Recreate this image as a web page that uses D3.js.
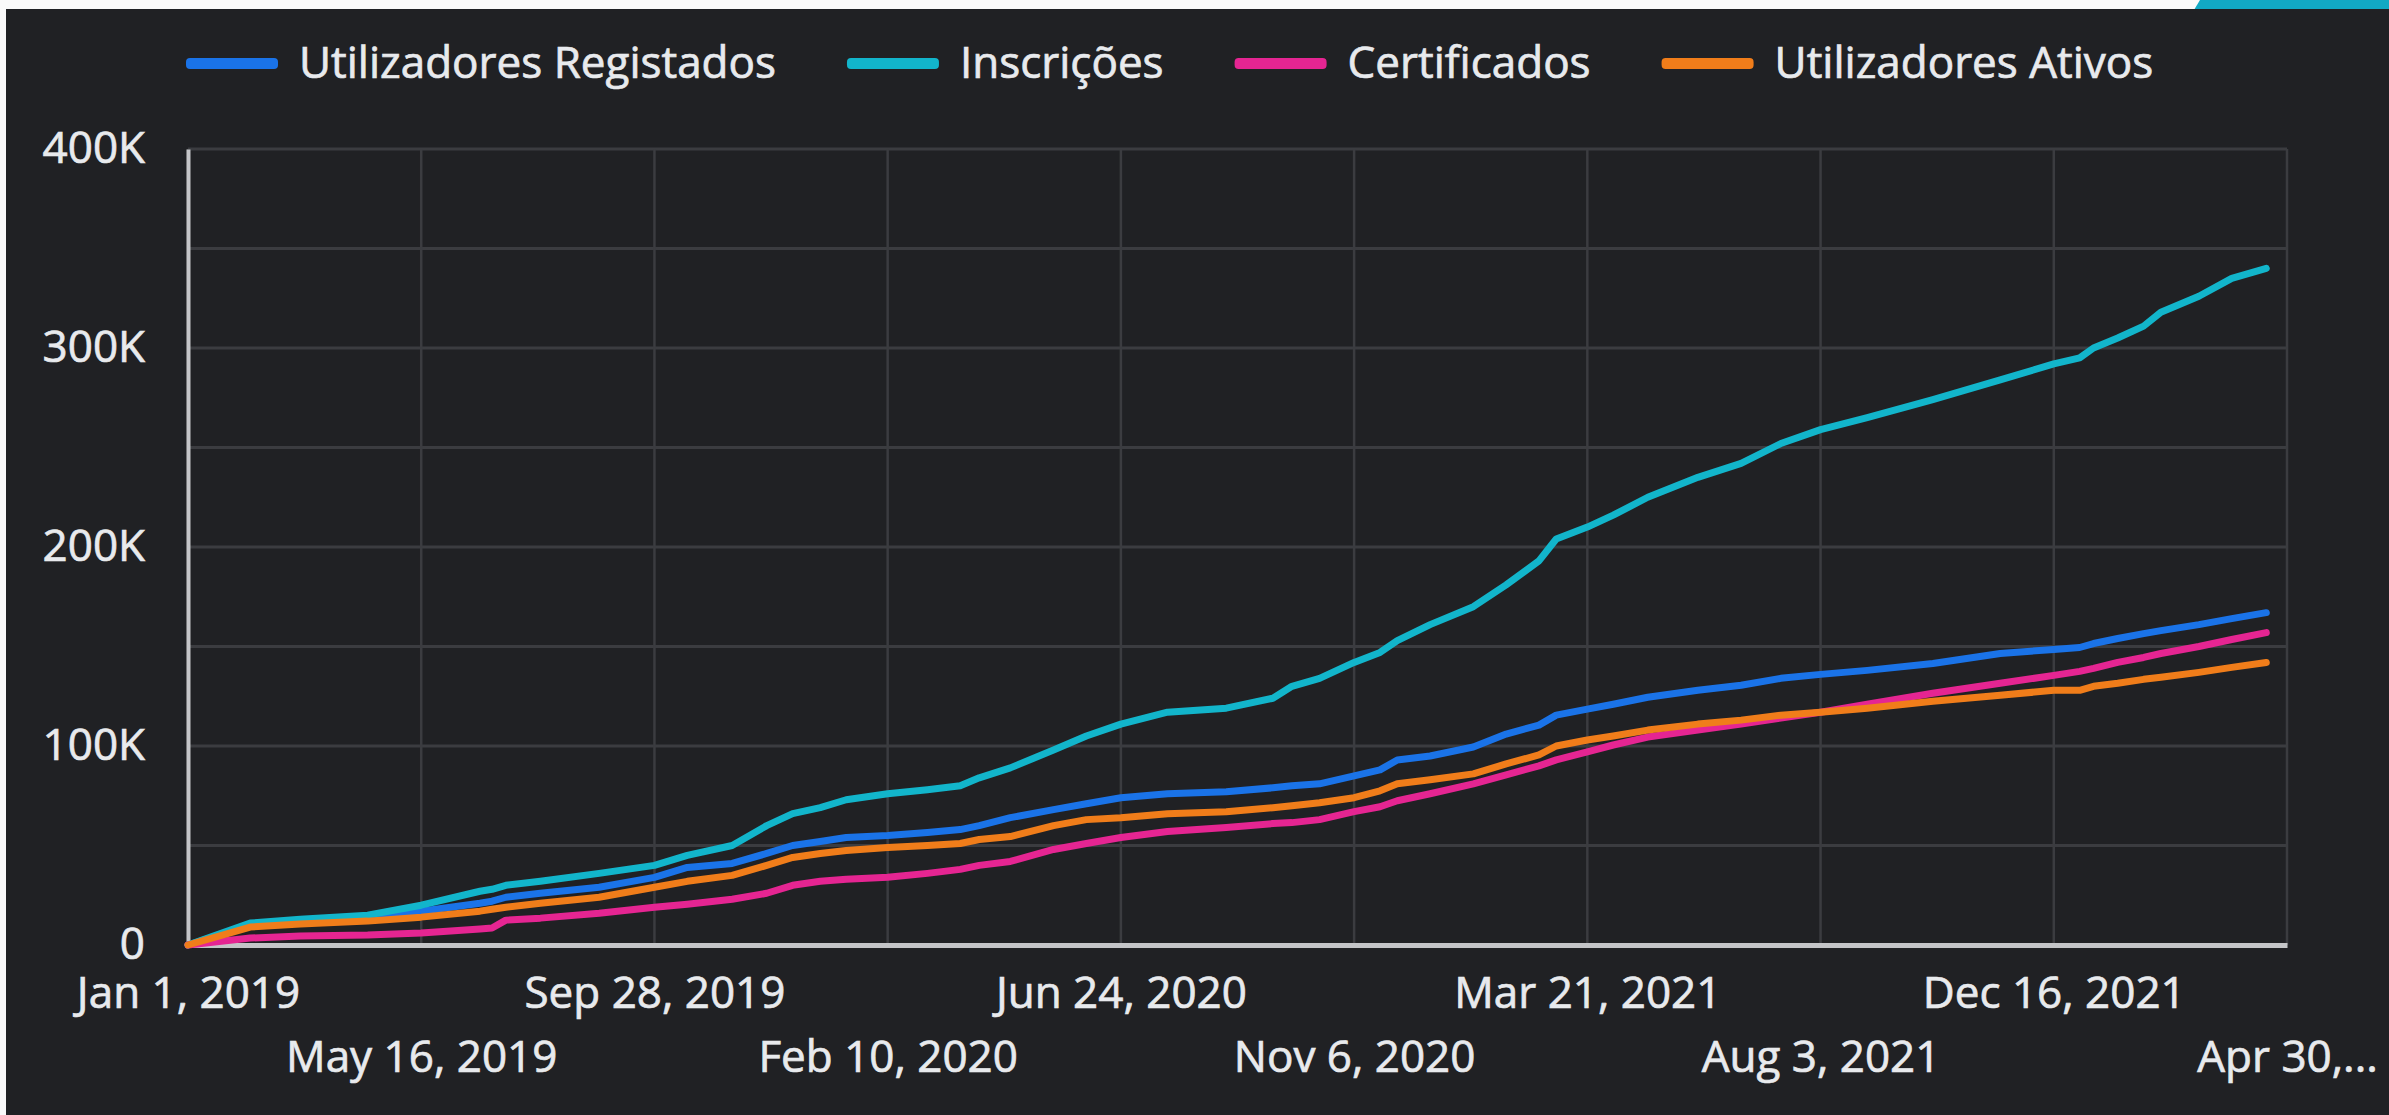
<!DOCTYPE html>
<html>
<head>
<meta charset="utf-8">
<script src="https://cdn.jsdelivr.net/npm/d3@7"></script>
<style>
  body { margin: 0; background: #fafafa; }
  text { font-family: "Open Sans", "Noto Sans", sans-serif; fill: #e8eaed; stroke: #e8eaed; stroke-width: 0.7px; }
</style>
</head>
<body>
<svg id="LinesChart"></svg>
<script>
// Dates of the samples
const dates = [
  "2019-01-01", "2019-02-06", "2019-03-07", "2019-04-15", "2019-05-16", "2019-06-19",
  "2019-06-26", "2019-07-04", "2019-07-24", "2019-08-27", "2019-09-28", "2019-10-17",
  "2019-11-12", "2019-12-02", "2019-12-17", "2020-01-02", "2020-01-17", "2020-02-10",
  "2020-03-04", "2020-03-23", "2020-04-03", "2020-04-21", "2020-05-16", "2020-06-04",
  "2020-06-24", "2020-07-21", "2020-08-24", "2020-09-20", "2020-10-01", "2020-10-17",
  "2020-11-06", "2020-11-21", "2020-12-01", "2020-12-20", "2021-01-14", "2021-02-02",
  "2021-02-21", "2021-03-03", "2021-03-21", "2021-04-05", "2021-04-25", "2021-05-24",
  "2021-06-18", "2021-07-11", "2021-08-03", "2021-08-30", "2021-10-07", "2021-11-15",
  "2021-12-16", "2021-12-31", "2022-01-08", "2022-01-22", "2022-02-06", "2022-02-16",
  "2022-03-10", "2022-03-29", "2022-04-18"
];

// values in thousands
const registados = [0, 10, 12, 14, 17, 21, 22, 24, 26, 29, 34, 39, 41, 46, 50, 52, 54, 55, 56.5, 58,
  60, 64, 68, 71, 74, 76, 77, 79, 80, 81, 85, 88, 93, 95, 99.5, 106, 110.5, 115.5, 118.5, 121,
  124.5, 128, 130.5, 134, 136, 138, 141.5, 146.5, 148.5, 149.5, 151.5, 154, 156.5, 158, 161, 164, 167];
const inscricoes = [0, 11, 13, 15, 20, 27, 28, 30, 32, 36, 40, 45, 50, 60, 66, 69, 73, 76, 78, 80,
  84, 89, 98, 105, 111, 117, 119, 124, 130, 134, 142, 147, 153, 161, 170, 181, 193, 204, 210, 216,
  225, 235, 242, 252, 259, 265, 274, 284, 292, 295, 300, 305, 311, 318, 326, 335, 340];
const certificados = [0, 3.5, 4.5, 5, 6, 8, 8.5, 12.5, 13.5, 16, 19, 20.5, 23, 26, 30, 32, 33, 34, 36, 38,
  40, 42, 48, 51, 54, 57, 59, 61, 61.5, 63, 67, 69.5, 72.5, 76, 81, 85.5, 90, 93, 97, 100.5,
  104.5, 108, 111, 114, 117, 121, 126.5, 131.5, 135.5, 137.5, 139, 142, 144.5, 146.5, 150, 153.5, 157];
const ativos = [0, 9, 10.5, 12, 14, 17, 18, 19, 21, 24, 29, 32, 35, 40, 44, 46, 47.5, 49, 50, 51,
  53, 54.5, 60, 63, 64, 66, 67, 69, 70, 71.5, 74, 77.5, 81, 83, 86, 91, 95.5, 100, 103, 105,
  108, 111, 113, 115.5, 117, 119, 122.5, 125.5, 128, 128, 130, 131.5, 133.5, 134.5, 137, 139.5, 142];

const seriesNames = ["Utilizadores Registados", "Inscrições", "Certificados", "Utilizadores Ativos"];
const seriesColors = ["#1a73e8", "#12b5cb", "#e52592", "#f07d1a"];

// axis ticks
const xTickDates = ["2019-01-01", "2019-05-16", "2019-09-28", "2020-02-10", "2020-06-24",
  "2020-11-06", "2021-03-21", "2021-08-03", "2021-12-16", "2022-04-30"];
const xTickLabels = ["Jan 1, 2019", "May 16, 2019", "Sep 28, 2019", "Feb 10, 2020", "Jun 24, 2020",
  "Nov 6, 2020", "Mar 21, 2021", "Aug 3, 2021", "Dec 16, 2021", "Apr 30,..."];
const yTicks = [0, 100, 200, 300, 400];
const yTickLabels = ["0", "100K", "200K", "300K", "400K"];
const yGrid = [0, 50, 100, 150, 200, 250, 300, 350, 400];

function getConfig() {
    let width = 2389;
    let height = 1115;
    let margin = { top: 149, bottom: 170, left: 188, right: 102 };
    let bodyWidth = width - margin.left - margin.right;
    let bodyHeight = height - margin.top - margin.bottom;
    let container = d3.select("#LinesChart")
        .attr("width", width)
        .attr("height", height);
    return { width, height, margin, bodyWidth, bodyHeight, container };
}

function getScales(config) {
    let { bodyWidth, bodyHeight } = config;
    let parse = d3.timeParse("%Y-%m-%d");
    let xScale = d3.scaleTime()
        .domain([parse(xTickDates[0]), parse(xTickDates[xTickDates.length - 1])])
        .range([0, bodyWidth]);
    let yScale = d3.scaleLinear()
        .domain([0, 400])
        .range([bodyHeight, 0]);
    return { xScale, yScale, parse };
}

function drawFrame(config) {
    let { container, width, height } = config;
    // white page border with the teal corner tab, then the dark panel
    container.append("rect").attr("width", width).attr("height", height).attr("fill", "#fafafa");
    container.append("polygon")
        .attr("points", "2200,0 2389,0 2389,10 2194,10")
        .attr("fill", "#12a9c4");
    container.append("rect")
        .attr("x", 6).attr("y", 9)
        .attr("width", width - 6).attr("height", height - 9)
        .attr("fill", "#202124");
}

function drawGrid(scales, config) {
    let { xScale, yScale, parse } = scales;
    let { margin, bodyWidth, bodyHeight, container } = config;
    let grid = container.append("g")
        .attr("transform", `translate(${margin.left},${margin.top})`);

    grid.selectAll(".hgrid").data(yGrid).enter().append("line")
        .attr("x1", 0).attr("x2", bodyWidth)
        .attr("y1", d => yScale(d)).attr("y2", d => yScale(d))
        .attr("stroke", "#3b3c40").attr("stroke-width", 3);

    grid.selectAll(".vgrid").data(xTickDates).enter().append("line")
        .attr("x1", d => xScale(parse(d))).attr("x2", d => xScale(parse(d)))
        .attr("y1", 0).attr("y2", bodyHeight)
        .attr("stroke", "#3b3c40").attr("stroke-width", 2.5);
}

function drawAxes(scales, config) {
    let { xScale, yScale, parse } = scales;
    let { margin, bodyHeight, container } = config;

    let axisY = d3.axisLeft(yScale)
        .tickValues(yTicks)
        .tickFormat((d, i) => yTickLabels[i])
        .tickSize(0)
        .tickPadding(43);
    let gy = container.append("g")
        .attr("transform", `translate(${margin.left},${margin.top})`)
        .call(axisY);
    gy.select(".domain").attr("stroke", "#c4c5c8").attr("stroke-width", 4);
    gy.selectAll("text")
        .style("font-size", "44px")
        .attr("fill", "#e8eaed")
        .attr("dy", "0.30em");

    let axisX = d3.axisBottom(xScale)
        .tickValues(xTickDates.map(parse))
        .tickFormat((d, i) => xTickLabels[i])
        .tickSize(0);
    let gx = container.append("g")
        .attr("transform", `translate(${margin.left},${margin.top + bodyHeight})`)
        .call(axisX);
    gx.select(".domain").attr("stroke", "#c4c5c8").attr("stroke-width", 5);
    // labels alternate on two rows
    gx.selectAll("text")
        .style("font-size", "44px")
        .attr("fill", "#e8eaed")
        .attr("dy", 0)
        .attr("y", (d, i) => i % 2 === 0 ? 63 : 127);
}

function drawLines(scales, config) {
    let { xScale, yScale, parse } = scales;
    let { margin, container } = config;
    let body = container.append("g")
        .attr("transform", `translate(${margin.left},${margin.top})`);

    let allSeries = [registados, inscricoes, certificados, ativos];
    let line = d3.line()
        .x((d, i) => xScale(parse(dates[i])))
        .y(d => yScale(d));

    body.selectAll(".series").data(allSeries).enter().append("path")
        .attr("d", d => line(d))
        .attr("fill", "none")
        .attr("stroke", (d, i) => seriesColors[i])
        .attr("stroke-width", 7)
        .attr("stroke-linejoin", "round")
        .attr("stroke-linecap", "round");
}

function drawLegend(config) {
    let { container } = config;
    let legend = container.append("g");
    let x = 186;
    seriesNames.forEach(function(name, i) {
        legend.append("rect")
            .attr("x", x).attr("y", 58)
            .attr("width", 92).attr("height", 11)
            .attr("rx", 4)
            .attr("fill", seriesColors[i]);
        let label = legend.append("text")
            .attr("x", x + 113).attr("y", 78)
            .style("font-size", "44px")
            .text(name);
        x = x + 113 + label.node().getComputedTextLength() + 71;
    });
}

let config = getConfig();
let scales = getScales(config);
drawFrame(config);
drawGrid(scales, config);
drawAxes(scales, config);
drawLines(scales, config);
drawLegend(config);
</script>
</body>
</html>
